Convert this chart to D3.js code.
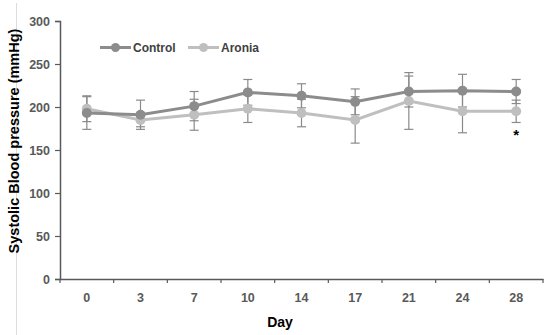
<!DOCTYPE html>
<html><head><meta charset="utf-8">
<script src="https://cdn.jsdelivr.net/npm/d3@7"></script>
<style>body{margin:0;background:#fff}svg{display:block;font-family:"Liberation Sans",Arial,sans-serif}</style>
</head><body><svg id="c" width="557" height="335"></svg>
<script>
const days = ["0","3","7","10","14","17","21","24","28"];
const controlMean = [193,191,201,217,213,206,218,219,218];
const controlSD   = [19,17,17,15,14,15,18,19,14];
const aroniaMean  = [198,185,191,198,193,185,207,195,195];
const aroniaSD    = [15,8,18,16,16,27,33,25,13];
const yTicks = [0,50,100,150,200,250,300];

const svg = d3.select("#c");
const m = {l:60, r:14, t:21, b:56};
const W = 557, H = 335;
const x = d3.scaleBand().domain(days).range([m.l, W - m.r]);
const y = d3.scaleLinear().domain([0,300]).range([H - m.b, m.t]);

// page border artifact
svg.append("line").attr("x1",16.5).attr("x2",16.5).attr("y1",3).attr("y2",335)
  .attr("stroke","#dcdcdc").attr("stroke-width",1);

const axisColor = "#595959";
const ya = svg.append("g").attr("transform",`translate(${m.l},0)`)
  .call(d3.axisLeft(y).tickValues(yTicks).tickSize(5).tickPadding(5));
const xa = svg.append("g").attr("transform",`translate(0,${H - m.b})`)
  .call(d3.axisBottom(x).tickSize(0).tickPadding(14));
xa.selectAll(".tick line").remove();
[ya, xa].forEach(g => {
  g.select(".domain").attr("stroke",axisColor).attr("stroke-width",1.5);
  g.selectAll("text").attr("fill","#595959").attr("font-size",12.5).attr("font-weight","bold")
   .attr("font-family","'Liberation Sans',Arial,sans-serif");
  g.selectAll(".tick line").attr("stroke",axisColor).attr("stroke-width",1.2);
});
const bounds = days.map(d => x(d)).concat([x(days[days.length-1]) + x.bandwidth()]);
xa.selectAll(".bt").data(bounds).join("line").attr("class","bt")
  .attr("x1",d=>d).attr("x2",d=>d).attr("y1",0).attr("y2",4)
  .attr("stroke",axisColor).attr("stroke-width",1.2);

// axis titles
svg.append("text").attr("transform",`translate(19,141) rotate(-90)`)
  .attr("text-anchor","middle").attr("font-size",14.5).attr("font-weight","bold").attr("fill","#000")
  .text("Systolic Blood pressure (mmHg)");
svg.append("text").attr("x",280).attr("y",327)
  .attr("text-anchor","middle").attr("font-size",14).attr("font-weight","bold").attr("fill","#000")
  .text("Day");

const cx = d => x(d) + x.bandwidth()/2;
const series = [
  {name:"Aronia", mean:aroniaMean, sd:aroniaSD, color:"#bfbfbf"},
  {name:"Control", mean:controlMean, sd:controlSD, color:"#8c8c8c"}
];
const errColor = "#8a8a8a";
series.forEach(s => {
  const g = svg.append("g");
  days.forEach((d,i) => {
    const X = cx(d), lo = y(s.mean[i]-s.sd[i]), hi = y(s.mean[i]+s.sd[i]);
    g.append("line").attr("x1",X).attr("x2",X).attr("y1",lo).attr("y2",hi).attr("stroke",errColor).attr("stroke-width",1.2);
    [lo,hi].forEach(v => g.append("line").attr("x1",X-4.5).attr("x2",X+4.5).attr("y1",v).attr("y2",v).attr("stroke",errColor).attr("stroke-width",1.2));
  });
});
series.forEach(s => {
  const line = d3.line().x((v,i)=>cx(days[i])).y(v=>y(v));
  svg.append("path").datum(s.mean).attr("d",line).attr("fill","none")
    .attr("stroke",s.color).attr("stroke-width",3);
  svg.selectAll(null).data(s.mean).join("circle")
    .attr("cx",(v,i)=>cx(days[i])).attr("cy",v=>y(v)).attr("r",5).attr("fill",s.color);
});

// significance asterisk
svg.append("text").attr("x",cx("28")).attr("y",y(aroniaMean[8]-aroniaSD[8]) + 18)
  .attr("text-anchor","middle").attr("font-size",15).attr("font-weight","bold").attr("fill","#000").text("*");

// legend
const leg = [{name:"Control", color:"#8c8c8c", x:100},{name:"Aronia", color:"#bfbfbf", x:188}];
leg.forEach(l => {
  svg.append("line").attr("x1",l.x).attr("x2",l.x+31).attr("y1",47.5).attr("y2",47.5).attr("stroke",l.color).attr("stroke-width",3);
  svg.append("circle").attr("cx",l.x+15.5).attr("cy",47.5).attr("r",4.5).attr("fill",l.color);
  svg.append("text").attr("x",l.x+33).attr("y",52).attr("font-size",12).attr("font-weight","bold")
    .attr("fill","#404040").text(l.name);
});
</script></body></html>
